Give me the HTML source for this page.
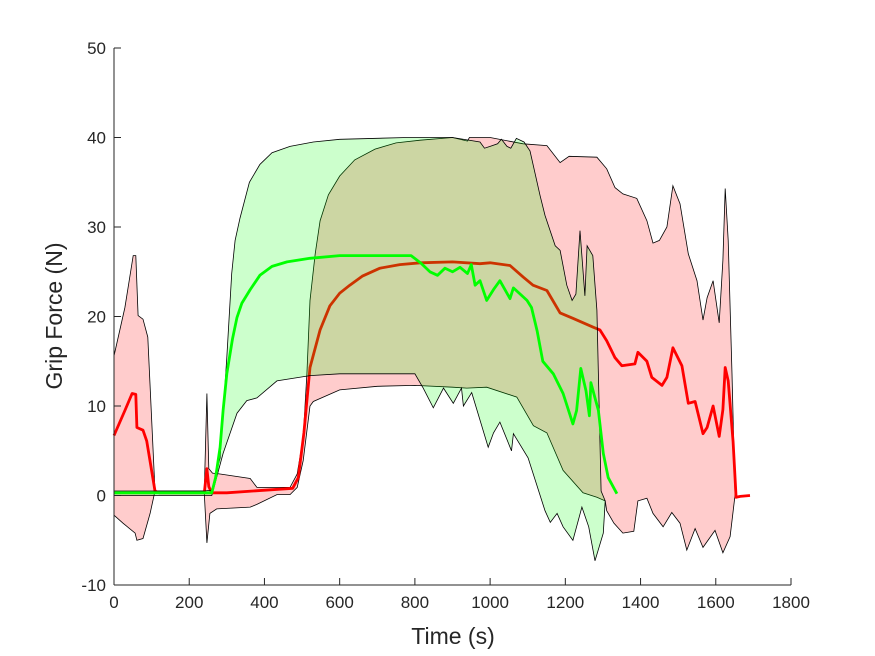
<!DOCTYPE html>
<html><head><meta charset="utf-8"><style>
body{margin:0;background:#fff;}
svg{display:block;font-family:"Liberation Sans",Arial,sans-serif;}
</style></head><body>
<svg id="chart" width="875" height="656" viewBox="0 0 875 656" xmlns="http://www.w3.org/2000/svg">
<rect width="875" height="656" fill="#fff"/>
<g id="plot"></g>
<g id="axes"></g>
<text x="453" y="644" font-size="23" text-anchor="middle" fill="#262626">Time (s)</text>
<text transform="translate(62,316) rotate(-90)" font-size="23" text-anchor="middle" fill="#262626">Grip Force (N)</text>
</svg>
<script>
const xTicks=[0,200,400,600,800,1000,1200,1400,1600,1800];
const yTicks=[-10,0,10,20,30,40,50];
const redMeanT=[0,29,48,58,61,77,87,109,120,240,247,252,260,300,475,490,505,521,548,574,600,627,660,707,760,814,900,973,1000,1053,1088,1114,1151,1186,1220,1274,1292,1310,1332,1350,1385,1393,1417,1430,1457,1470,1486,1510,1527,1545,1566,1577,1593,1609,1619,1625,1633,1646,1654,1665,1691];
const redMeanV=[6.7,9.5,11.4,11.3,7.6,7.3,6.1,0.5,0.3,0.3,3,1,0.3,0.3,0.8,2,7,14.3,18.5,21.2,22.6,23.5,24.5,25.4,25.8,26,26.1,25.9,26,25.7,24.4,23.5,22.9,20.4,19.8,18.8,18.5,17.3,15.4,14.5,14.7,16,15,13.2,12.3,13.2,16.5,14.5,10.3,10.5,6.9,7.6,10,6.6,9.6,14.3,12.8,6,-0.2,-0.1,0];
const redUpT=[0,29,51,58,64,77,90,109,120,240,247,252,262,282,362,380,468,487,503,513,521,535,548,570,600,640,694,750,814,900,940,945,1000,1088,1151,1186,1210,1284,1310,1332,1353,1390,1417,1433,1450,1470,1486,1505,1527,1550,1566,1577,1593,1609,1619,1625,1633,1643,1651];
const redUpV=[15.6,21,26.8,26.8,20.1,19.7,17.7,0.5,0.5,0.5,11.4,3,2.5,2.4,1.9,0.9,0.9,2.4,6.5,13.6,21.8,27,30.7,33.6,35.7,37.5,38.7,39.4,39.7,40,39.6,40,40,39.3,39.1,37.2,37.9,37.8,36.5,34.4,33.7,33.2,30.7,28.2,28.5,30,34.6,32.6,27,24,19.6,22.1,24,19.3,26.3,34.3,28.5,13.6,0];
const redLoT=[0,24,56,61,77,96,109,120,240,247,255,273,362,380,433,468,487,503,521,530,600,700,800,900,938,991,1071,1115,1151,1194,1247,1284,1306,1310,1329,1353,1382,1393,1417,1433,1460,1483,1505,1523,1545,1566,1598,1619,1638,1651];
const redLoV=[-2.2,-3.1,-4.2,-5,-4.8,-2,0.5,0.2,0.2,-5.3,-2,-1.5,-1.3,-1,0.1,0.1,0.9,3.9,10,10.5,11.8,12.2,12.3,12.1,12,12.1,11,7.8,7,2.8,0.3,-0.2,-0.6,-1.7,-3.1,-4.2,-4,-0.6,-0.3,-2,-3.5,-1.9,-3.1,-6.1,-3.7,-5.8,-3.9,-6.4,-4.6,0];
const greenMeanT=[0,240,260,270,282,290,300,315,327,340,362,388,420,460,521,600,700,790,815,840,860,880,900,920,940,950,960,973,991,1009,1026,1053,1062,1098,1110,1125,1140,1168,1194,1220,1230,1241,1255,1264,1268,1288,1301,1314,1337];
const greenMeanV=[0.3,0.3,0.3,2,5.4,9.5,13.6,17.5,19.9,21.5,23,24.6,25.6,26.1,26.5,26.8,26.8,26.8,26,25,24.6,25.4,25,25.5,24.8,25.8,23.5,24,21.8,23,24,22,23.2,21.8,21,18.4,15,13.6,11.4,8,9.5,14.2,11.7,8.9,12.6,9.5,4.7,2,0.2];
const greenUpT=[0,240,260,282,300,313,322,335,360,388,420,468,530,600,780,900,973,985,1000,1020,1030,1045,1055,1070,1090,1106,1133,1146,1173,1186,1204,1218,1228,1239,1252,1258,1273,1284,1295,1306];
const greenUpV=[0.5,0.5,0.6,4.2,15.4,24.8,28.5,31,35,37,38.3,39,39.5,39.8,40,40,39.5,38.8,39,39.3,39.8,39,38.8,39.9,39.5,38.5,33.5,31.3,27.9,27.4,23.5,21.8,22.5,29.6,22.3,27.9,26.8,20.7,0.5,-0.6];
const greenLoT=[0,240,260,290,327,353,380,433,521,600,800,822,849,876,902,924,929,951,995,1009,1026,1057,1062,1101,1146,1160,1178,1194,1220,1244,1262,1279,1301,1306];
const greenLoV=[0,0,0,4.7,9.2,10.6,10.9,12.8,13.4,13.6,13.6,12,9.8,12,10.3,12,10,11.5,5.4,7,8.2,5,6.9,4.2,-1.7,-3,-2,-3.5,-5,-1.3,-3.5,-7.3,-4.2,-0.6];

const X0=114,X1=791,Y0=585,Y1=48;
const sx=t=>X0+t/1800*(X1-X0);
const sy=v=>Y0-(v+10)/60*(Y0-Y1);
const NS="http://www.w3.org/2000/svg";
const plot=document.getElementById('plot'),axes=document.getElementById('axes');
function pts(T,V){return T.map((t,i)=>sx(t).toFixed(1)+','+sy(V[i]).toFixed(1));}
function band(upT,upV,loT,loV,fill,name){
  const p=document.createElementNS(NS,'polygon');
  const a=pts(upT,upV),b=pts(loT,loV).reverse();
  p.setAttribute('points',a.concat(b).join(' '));
  p.setAttribute('fill',fill);p.setAttribute('fill-opacity','0.2');
  p.setAttribute('stroke','#000');p.setAttribute('stroke-width','0.8');
  
  
  plot.appendChild(p);
}
function line(T,V,col,name){
  const p=document.createElementNS(NS,'polyline');
  p.setAttribute('points',pts(T,V).join(' '));
  p.setAttribute('fill','none');p.setAttribute('stroke',col);p.setAttribute('stroke-width','2.8');
  p.setAttribute('stroke-linejoin','round');
  
  
  plot.appendChild(p);
}
band(redUpT,redUpV,redLoT,redLoV,'#ff0000','red-band');
line(redMeanT,redMeanV,'#ff0000','red-mean-line');
band(greenUpT,greenUpV,greenLoT,greenLoV,'#00ff00','green-band');
line(greenMeanT,greenMeanV,'#00ff00','green-mean-line');
function el(tag,attrs,parent){const e=document.createElementNS(NS,tag);for(const k in attrs)e.setAttribute(k,attrs[k]);parent.appendChild(e);return e;}
const xa=el('line',{x1:X0,y1:Y0,x2:X1,y2:Y0,stroke:'#262626','stroke-width':1},axes);


const ya=el('line',{x1:X0,y1:Y0,x2:X0,y2:Y1,stroke:'#262626','stroke-width':1},axes);


xTicks.forEach(t=>{
  el('line',{x1:sx(t),y1:Y0,x2:sx(t),y2:Y0-7,stroke:'#262626'},axes);
  const tx=el('text',{x:sx(t),y:Y0+23,'font-size':17,'text-anchor':'middle',fill:'#262626'},axes);
  tx.textContent=t;
  
  
});
yTicks.forEach(v=>{
  el('line',{x1:X0,y1:sy(v),x2:X0+7,y2:sy(v),stroke:'#262626'},axes);
  const tx=el('text',{x:X0-8,y:sy(v)+6,'font-size':17,'text-anchor':'end',fill:'#262626'},axes);
  tx.textContent=v;
  
  
});
</script>
</body></html>
